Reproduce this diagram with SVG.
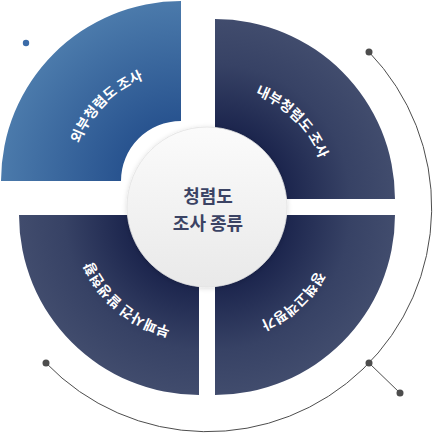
<svg xmlns="http://www.w3.org/2000/svg" width="433" height="434" viewBox="0 0 433 434">
<style>
.lbl{font-family:"Noto Sans CJK KR","Noto Sans",sans-serif;font-weight:700;font-size:14px;fill:#ffffff}
.ctr{font-family:"Noto Sans CJK KR","Noto Sans",sans-serif;font-weight:700;font-size:18px;fill:#3b4364;text-anchor:middle}
.conn{fill:none;stroke:#4d4d4d;stroke-width:1}
.dot{fill:#4d4d4d}
</style>
<defs>
<radialGradient id="gBlue" gradientUnits="userSpaceOnUse" cx="181" cy="181" r="180">
<stop offset="0.33" stop-color="#28538f"/>
<stop offset="1" stop-color="#4b7aab"/>
</radialGradient>
<radialGradient id="gTR" gradientUnits="userSpaceOnUse" cx="215" cy="199" r="180">
<stop offset="0.33" stop-color="#172049"/>
<stop offset="0.75" stop-color="#374265"/>
<stop offset="1" stop-color="#414c6d"/>
</radialGradient>
<radialGradient id="gBR" gradientUnits="userSpaceOnUse" cx="215" cy="215" r="180">
<stop offset="0.33" stop-color="#172049"/>
<stop offset="0.75" stop-color="#374265"/>
<stop offset="1" stop-color="#414c6d"/>
</radialGradient>
<radialGradient id="gBL" gradientUnits="userSpaceOnUse" cx="199" cy="215" r="180">
<stop offset="0.33" stop-color="#172049"/>
<stop offset="0.75" stop-color="#374265"/>
<stop offset="1" stop-color="#414c6d"/>
</radialGradient>
<linearGradient id="gCenter" x1="0" y1="0" x2="0" y2="1">
<stop offset="0" stop-color="#fbfbfb"/>
<stop offset="1" stop-color="#e9e9e9"/>
</linearGradient>
<filter id="shadow" x="-20%" y="-20%" width="140%" height="140%">
<feDropShadow dx="0" dy="1" stdDeviation="2.5" flood-color="#000" flood-opacity="0.15"/>
</filter>
<path id="pTL" d="M73,181 A108,108 0 0 1 181,73"/>
<path id="pTR" d="M215,87 A112,112 0 0 1 327,199"/>
<path id="pBR" d="M331,215 A116,116 0 0 1 215,331"/>
<path id="pBL" d="M199,331 A116,116 0 0 1 83,215"/>
</defs>

<g id="connectors">
<path class="conn" d="M369,52 A224,224 0 1 1 46,363"/>
<line class="conn" x1="369" y1="363" x2="400" y2="393"/>
<circle class="dot" cx="369" cy="52" r="3.5"/>
<circle class="dot" cx="369" cy="363" r="3.5"/>
<circle class="dot" cx="400" cy="393" r="3.5"/>
<circle class="dot" cx="46" cy="363" r="3.5"/>
<circle cx="26" cy="43" r="3.2" fill="#3b6ba8"/>
</g>

<g id="node-external">
<path d="M1,181 A180,180 0 0 1 181,1 L181,121 A60,60 0 0 0 121,181 Z" fill="url(#gBlue)"/>
<text class="lbl"><textPath href="#pTL" startOffset="50%" text-anchor="middle">외부청렴도 조사</textPath></text>
</g>

<g id="node-internal">
<path d="M215,19 A180,180 0 0 1 395,199 L275,199 A60,60 0 0 0 215,139 Z" fill="url(#gTR)"/>
<text class="lbl"><textPath href="#pTR" startOffset="50%" text-anchor="middle">내부청렴도 조사</textPath></text>
</g>

<g id="node-policy">
<path d="M395,215 A180,180 0 0 1 215,395 L215,275 A60,60 0 0 0 275,215 Z" fill="url(#gBR)"/>
<text class="lbl"><textPath href="#pBR" startOffset="53%" text-anchor="middle">정책고객평가</textPath></text>
</g>

<g id="node-corruption">
<path d="M199,395 A180,180 0 0 1 19,215 L139,215 A60,60 0 0 0 199,275 Z" fill="url(#gBL)"/>
<text class="lbl"><textPath href="#pBL" startOffset="45%" text-anchor="middle">부패사건 발생현황</textPath></text>
</g>

<g id="node-center">
<circle cx="207" cy="207" r="80" fill="url(#gCenter)" stroke="#e2e2e2" stroke-width="0.8" filter="url(#shadow)"/>
<text class="ctr" x="208" y="203">청렴도</text>
<text class="ctr" x="208" y="230">조사 종류</text>
</g>
</svg>
